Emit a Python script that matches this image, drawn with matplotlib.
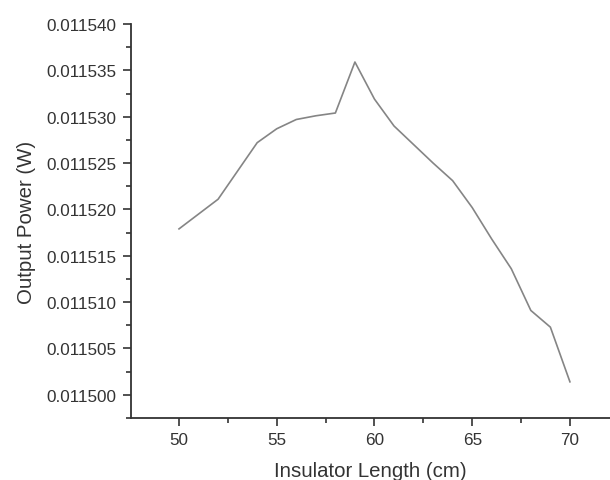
import numpy as np
import matplotlib.pyplot as plt
from matplotlib.ticker import MultipleLocator, FormatStrFormatter

# insulator length (cm) vs output power (W)
length = [50, 52, 54, 55, 56, 57, 58, 59, 60, 61, 62, 63, 64, 65, 66, 67, 68, 69, 70]
power = [0.0115179, 0.0115211, 0.0115272, 0.0115287, 0.0115297, 0.0115301,
         0.0115304, 0.0115359, 0.0115319, 0.0115290, 0.0115270, 0.0115250,
         0.0115231, 0.0115202, 0.0115168, 0.0115136, 0.0115091, 0.0115073,
         0.0115014]

plt.rcParams['font.family'] = ['Liberation Sans', 'DejaVu Sans']
ink = '#333333'

fig = plt.figure(figsize=(6.1, 4.81), dpi=100)
ax = fig.add_axes([0.2143, 0.1289, 0.7857, 0.8191])

ax.plot(length, power, color='#858585', lw=1.2)

ax.set_xlim(47.53, 72.05)
ax.set_ylim(0.0114975, 0.01154)
ax.xaxis.set_major_locator(MultipleLocator(5))
ax.xaxis.set_minor_locator(MultipleLocator(2.5))
ax.yaxis.set_major_locator(MultipleLocator(0.000005))
ax.yaxis.set_minor_locator(MultipleLocator(0.0000025))
ax.yaxis.set_major_formatter(FormatStrFormatter('%.6f'))

for s in ['top', 'right']:
    ax.spines[s].set_visible(False)
for s in ['left', 'bottom']:
    ax.spines[s].set_color(ink)
    ax.spines[s].set_linewidth(1.3)

ax.tick_params(which='major', direction='out', length=6, width=1.2, color=ink,
               labelsize=12.3, labelcolor=ink, pad=4)
ax.tick_params(which='minor', direction='out', length=3.5, width=1.2, color=ink)

ax.set_xlabel('Insulator Length (cm)', fontsize=14.7, color=ink, labelpad=10)
ax.set_ylabel('Output Power (W)', fontsize=14.7, color=ink, labelpad=8)

fig.savefig('out.png', dpi=100, facecolor='white')
